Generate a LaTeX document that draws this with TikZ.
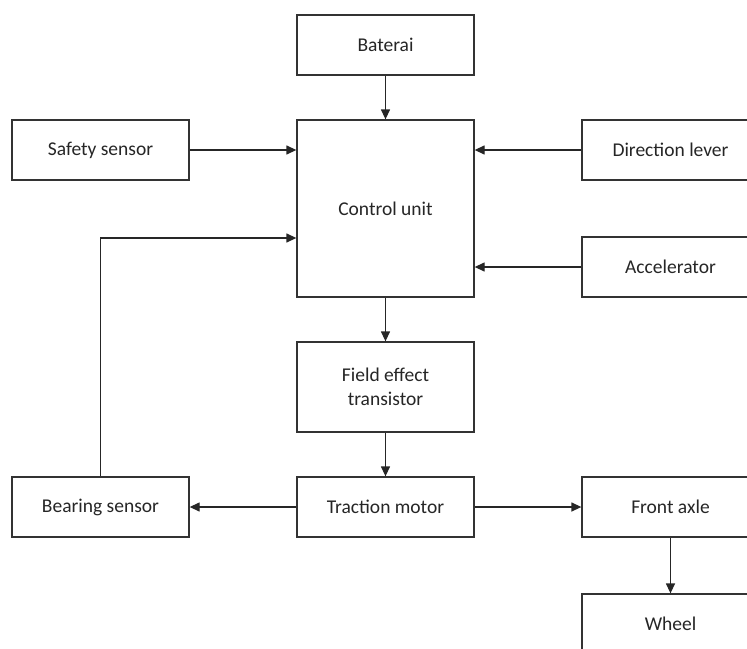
\documentclass[tikz,border=0pt]{standalone}
\usepackage{fontspec}
\setmainfont{Carlito}
\usetikzlibrary{arrows.meta}
\begin{document}
\begin{tikzpicture}[x=1pt,y=-1pt,
  box/.style={draw=black!80, line width=1.3pt, rectangle, minimum width=177pt, minimum height=60pt,
    inner sep=0pt, align=center, text=black!85, font=\fontsize{19.5}{23.5}\selectfont},
  arr/.style={draw=black!85, line width=1.3pt, -{Triangle[length=10pt,width=9pt]}}]
\clip (0,0) rectangle (747,648);
\fill[white] (0,0) rectangle (747,648);
\node[box] (bat) at (385.5,45) {Baterai};
\node[box, minimum height=177pt] (ctrl) at (385.5,208.5) {Control unit};
\node[box] (safe) at (100.5,150) {Safety sensor};
\node[box] (dir) at (670.5,150) {Direction lever};
\node[box] (acc) at (670.5,267) {Accelerator};
\node[box, minimum height=90pt] (fet) at (385.5,387) {Field effect\\transistor};
\node[box] (trac) at (385.5,507) {Traction motor};
\node[box] (bear) at (100.5,507) {Bearing sensor};
\node[box] (axle) at (670.5,507) {Front axle};
\node[box] (wheel) at (670.5,624) {Wheel};
\draw[arr] (bat) -- (ctrl);
\draw[arr] (safe.east) -- (safe.east -| ctrl.west);
\draw[arr] (dir.west) -- (dir.west -| ctrl.east);
\draw[arr] (acc.west) -- (acc.west -| ctrl.east);
\draw[arr] (bear.north) |- ([yshift=-29.5pt]ctrl.west);
\draw[arr] (ctrl) -- (fet);
\draw[arr] (fet) -- (trac);
\draw[arr] (trac) -- (bear);
\draw[arr] (trac) -- (axle);
\draw[arr] (axle) -- (wheel);
\end{tikzpicture}
\end{document}
